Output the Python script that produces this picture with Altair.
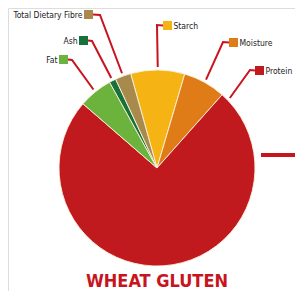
import math
import altair as alt
import pandas as pd

# ---- data (clockwise from Starch) ----
names = ["Starch", "Moisture", "Protein", "Fat", "Ash", "Total Dietary Fibre"]
values = [8.9, 7.0, 74.8, 5.6, 1.1, 2.6]
colors = ["#f6b314", "#e07c18", "#c01a1e", "#6bb33c", "#16713a", "#a88a4c"]

TITLE = "WHEAT GLUTEN"
RED = "#c8141e"
FONT = "'DejaVu Sans Condensed', 'Liberation Sans Narrow', 'DejaVu Sans', sans-serif"

# ---- layout (page pixel coords, minus 8px margin) ----
M = 8
W, H = 287, 283
R = 98
START_DEG = -15.6
start = math.radians(START_DEG)

pie_df = pd.DataFrame({"name": names, "value": values, "order": list(range(len(names)))})

total = sum(values)
cum = 0
mid_deg, start_deg = {}, {}
for n, v in zip(names, values):
    start_deg[n] = START_DEG + 360 * cum / total
    mid_deg[n] = START_DEG + 360 * (cum + v / 2) / total
    cum += v
leader_deg = dict(mid_deg)
leader_deg["Protein"] = start_deg["Protein"] + 4.5

# name: (box_x0, box_y0, side, elbow_x, elbow_y)
label_layout = {
    "Total Dietary Fibre": (84, 10, "L", 100, 15),
    "Ash": (79, 36, "L", 92, 41),
    "Fat": (59, 55, "L", 72, 60),
    "Starch": (163, 21, "R", 157, 25),
    "Moisture": (229, 38, "R", 223, 42),
    "Protein": (255, 66, "R", 250, 70),
}
BOX = 9

line_rows, box_rows, text_rows = [], [], []
for n, c in zip(names, colors):
    bx, by, side, ex, ey = label_layout[n]
    bmid = by + BOX / 2
    sx = bx + BOX if side == "L" else bx
    a = math.radians(leader_deg[n])
    rx = 157 + (R + 3) * math.sin(a)
    ry = 168 - (R + 3) * math.cos(a)
    for i, (px, py) in enumerate([(sx, bmid), (ex, ey), (rx, ry)]):
        line_rows.append({"name": n, "i": i, "x": px - M, "y": py - M})
    box_rows.append({"name": n, "x": bx - M, "x2": bx + BOX - M, "y": by - M, "y2": by + BOX - M, "c": c})
    if side == "L":
        text_rows.append({"name": n, "x": bx - 1.5 - M, "y": bmid - M, "align": "right"})
    else:
        text_rows.append({"name": n, "x": bx + BOX + 1.5 - M, "y": bmid - M, "align": "left"})

lines_df = pd.DataFrame(line_rows)
box_df = pd.DataFrame(box_rows)
text_df = pd.DataFrame(text_rows)

pie = alt.Chart(pie_df).mark_arc(radius=R, stroke="#fbf3dc", strokeWidth=0.9).encode(
    theta=alt.Theta("value:Q", stack=True, scale=alt.Scale(range=[start, start + 2 * math.pi])),
    order=alt.Order("order:Q"),
    color=alt.Color("name:N", scale=alt.Scale(domain=names, range=colors), legend=None),
    x=alt.value(157 - M),
    y=alt.value(168 - M),
)

leaders = alt.Chart(lines_df).mark_line(color=RED, strokeWidth=2).encode(
    x=alt.X("x:Q", scale=None),
    y=alt.Y("y:Q", scale=None),
    detail="name:N",
    order="i:Q",
)

boxes = alt.Chart(box_df).mark_rect().encode(
    x=alt.X("x:Q", scale=None),
    x2="x2:Q",
    y=alt.Y("y:Q", scale=None),
    y2="y2:Q",
    color=alt.Color("c:N", scale=None),
)

label_style = dict(baseline="middle", font=FONT, fontSize=8.5, fontWeight="normal", color="#222222")

left_text = alt.Chart(text_df[text_df["align"] == "right"]).mark_text(
    align="right", **label_style
).encode(x=alt.X("x:Q", scale=None), y=alt.Y("y:Q", scale=None), text="name:N")

right_text = alt.Chart(text_df[text_df["align"] == "left"]).mark_text(
    align="left", **label_style
).encode(x=alt.X("x:Q", scale=None), y=alt.Y("y:Q", scale=None), text="name:N")

side_rule = alt.Chart(pd.DataFrame({"a": [0]})).mark_rule(color=RED, strokeWidth=4).encode(
    x=alt.value(261 - M), x2=alt.value(W), y=alt.value(155 - M)
)

title = alt.Chart(pd.DataFrame({"t": [TITLE]})).mark_text(
    align="center", baseline="bottom", font=FONT, fontSize=18, fontWeight="bold", color=RED
).encode(x=alt.value(157 - M), y=alt.value(H), text="t:N")

chart = alt.layer(pie, leaders, boxes, left_text, right_text, side_rule, title).properties(
    width=W, height=H, autosize=alt.AutoSizeParams(type="none"), padding=0
).configure_view(stroke=None).configure(background="white")

chart.save("out.html", embed_options={"renderer": "svg", "actions": False})
